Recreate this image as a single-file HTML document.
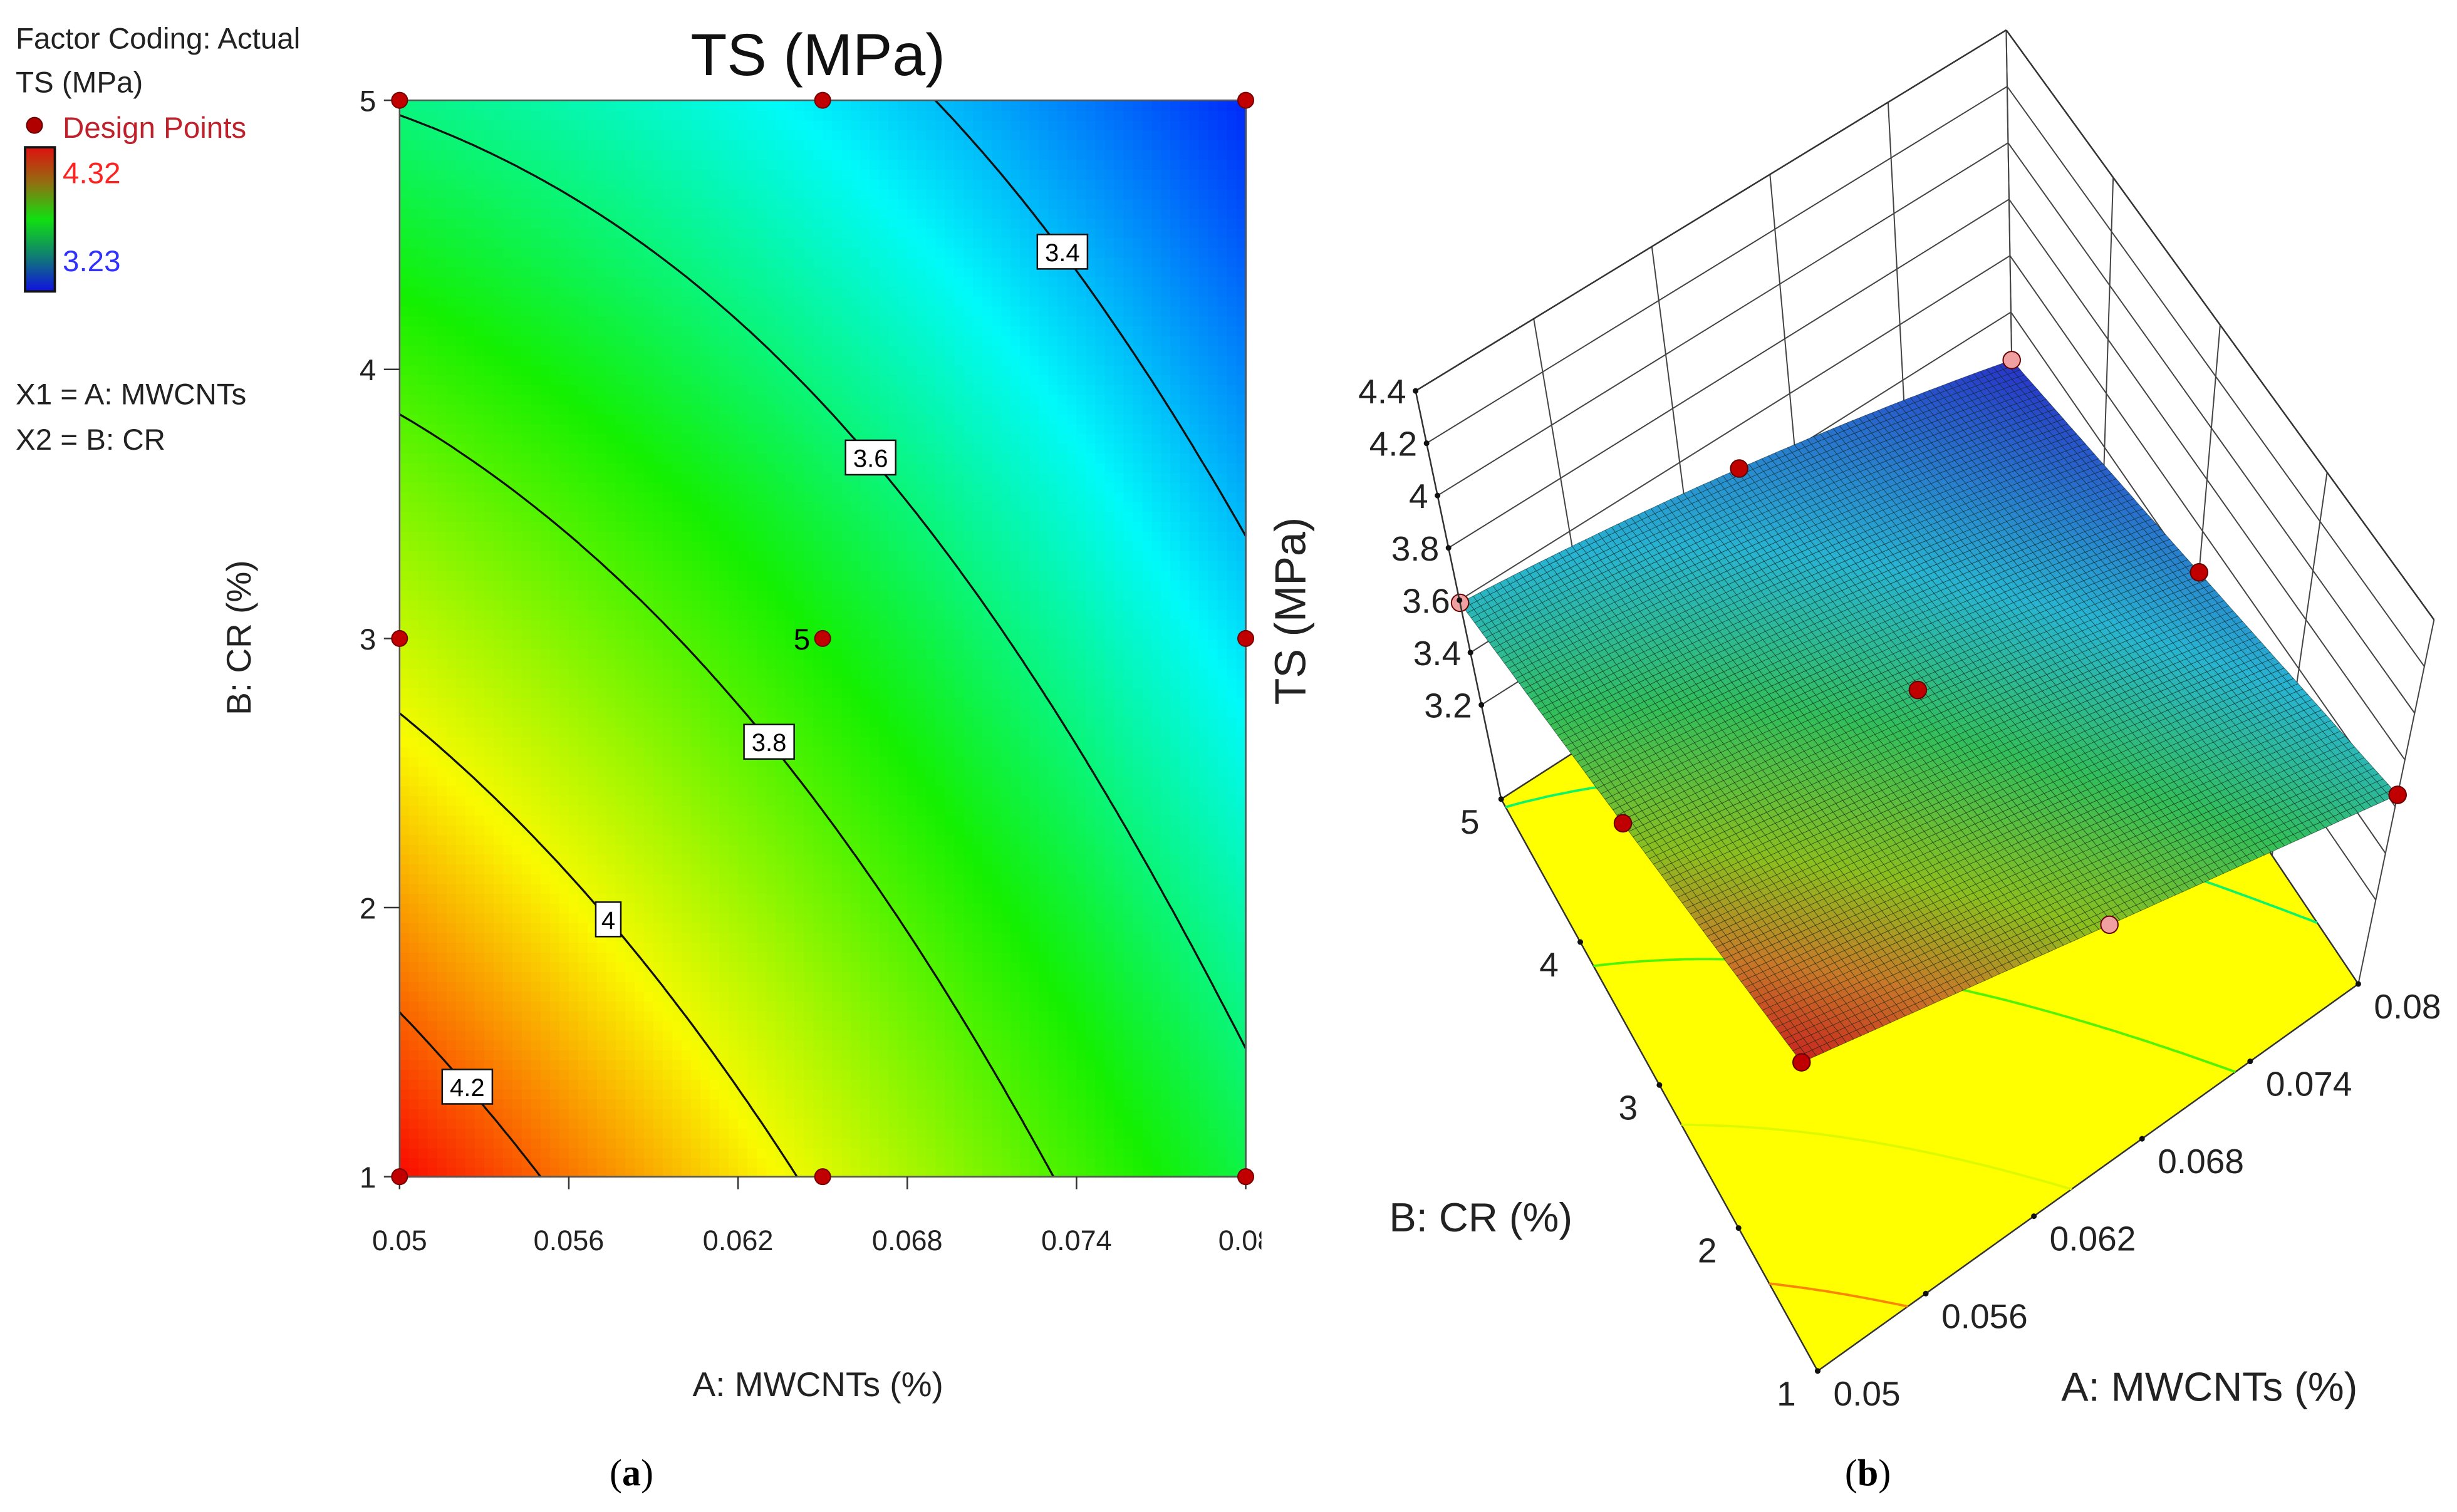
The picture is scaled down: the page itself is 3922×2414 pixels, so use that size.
<!DOCTYPE html>
<html><head><meta charset="utf-8"><style>
html,body{margin:0;padding:0;background:#fff;}
svg{display:block;font-family:"Liberation Sans",sans-serif;}
</style></head><body>
<svg id="root" xmlns="http://www.w3.org/2000/svg" width="3922" height="2414" viewBox="0 0 1568 965" preserveAspectRatio="none">
<defs>
<clipPath id="clipL"><rect x="0" y="0" width="805" height="965"/></clipPath>
<linearGradient id="legGrad" x1="0" y1="0" x2="0" y2="1">
<stop offset="0" stop-color="#e01010"/><stop offset="0.25" stop-color="#907010"/><stop offset="0.5" stop-color="#10e010"/><stop offset="0.75" stop-color="#108070"/><stop offset="1" stop-color="#1010e0"/>
</linearGradient>
</defs>
<g id="legend" font-size="19" fill="#222">
<text x="10" y="31">Factor Coding: Actual</text>
<text x="10" y="59">TS (MPa)</text>
<circle cx="22" cy="80" r="5" fill="#b00000" stroke="#600" stroke-width="0.8"/>
<text x="40" y="88" fill="#c0202a">Design Points</text>
<rect x="16" y="94" width="19" height="92" fill="url(#legGrad)" stroke="#111" stroke-width="1.5"/>
<text x="40" y="117" fill="#ff2020">4.32</text>
<text x="40" y="173" fill="#3030ff">3.23</text>
<text x="10" y="258">X1 = A: MWCNTs</text>
<text x="10" y="287">X2 = B: CR</text>
</g>
<text x="522" y="48" font-size="38" text-anchor="middle" fill="#111">TS (MPa)</text>
<g id="contourPlot" clip-path="url(#clipL)"></g>
<text x="522" y="891" font-size="22" text-anchor="middle" fill="#222">A: MWCNTs (%)</text>
<text transform="translate(160,407) rotate(-90)" font-size="22" text-anchor="middle" fill="#222">B: CR (%)</text>
<g id="surfPlot"></g>
<text transform="translate(833,390) rotate(-90)" font-size="28" text-anchor="middle" fill="#222">TS (MPa)</text>
<text x="945" y="786" font-size="26" text-anchor="middle" fill="#222">B: CR (%)</text>
<text x="1410" y="894" font-size="26" text-anchor="middle" fill="#222">A: MWCNTs (%)</text>
<text x="403" y="948" font-size="24" text-anchor="middle" font-family="Liberation Serif,serif">(<tspan font-weight="bold">a</tspan>)</text>
<text x="1192" y="948" font-size="24" text-anchor="middle" font-family="Liberation Serif,serif">(<tspan font-weight="bold">b</tspan>)</text>
</svg>
<script>
// ---- data ----
const modelCoef = [4.31, -0.66, -0.72, 0.463, -0.163];
const aRange = [0.05, 0.08];
const bRange = [1, 5];
const contourLevels = [3.4, 3.6, 3.8, 4.0, 4.2];
const contourLabelText = ["3.4", "3.6", "3.8", "4", "4.2"];
const contourLabelA = [0.0735, 0.0667, 0.0631, 0.0574, 0.0524];
const designA = [0.05, 0.065, 0.08, 0.05, 0.065, 0.08, 0.05, 0.065, 0.08];
const designB = [1, 1, 1, 3, 3, 3, 5, 5, 5];
const designBelow = [false, true, false, false, false, false, true, false, true];
const xTicks = [0.05, 0.056, 0.062, 0.068, 0.074, 0.08];
const xTickLabels = ["0.05", "0.056", "0.062", "0.068", "0.074", "0.08"];
const yTicks = [1, 2, 3, 4, 5];
const zTicks = [3.2, 3.4, 3.6, 3.8, 4.0, 4.2, 4.4];
const zTickLabels = ["3.2", "3.4", "3.6", "3.8", "4", "4.2", "4.4"];
const zFloor = 2.84, zTop = 4.4;

const NS = 'http://www.w3.org/2000/svg';
function mk(tag, parent){ const e=document.createElementNS(NS,tag); parent.appendChild(e); return e; }
function ts(A,B){ const u=(A-aRange[0])/(aRange[1]-aRange[0]), w=(B-bRange[0])/(bRange[1]-bRange[0]);
  return modelCoef[0]+modelCoef[1]*u+modelCoef[2]*w+modelCoef[3]*u*w+modelCoef[4]*u*u*w; }
function lerpC(stops,t){ t=Math.max(0,Math.min(1,t));
  for(let i=1;i<stops.length;i++){ if(t<=stops[i][0]){ const a=stops[i-1],b=stops[i],f=(t-a[0])/(b[0]-a[0]);
    return 'rgb('+[0,1,2].map(k=>Math.round(a[1][k]+(b[1][k]-a[1][k])*f)).join(',')+')'; } }
  return 'rgb('+stops[stops.length-1][1].join(',')+')'; }
const jet=[[0,[0,40,250]],[0.22,[0,250,250]],[0.45,[20,240,0]],[0.72,[250,250,0]],[1,[250,0,0]]];
const surfMap=[[0,[40,50,200]],[0.3,[40,180,210]],[0.5,[50,190,90]],[0.7,[140,190,30]],[0.85,[200,120,40]],[1,[200,30,30]]];
const vmin=3.23, vmax=4.32;

function contourSegs(level,N){
  const segs=[]; const dA=(aRange[1]-aRange[0])/N, dB=(bRange[1]-bRange[0])/N;
  for(let i=0;i<N;i++)for(let j=0;j<N;j++){
    const A0=aRange[0]+i*dA,B0=bRange[0]+j*dB;
    const c=[[A0,B0],[A0+dA,B0],[A0+dA,B0+dB],[A0,B0+dB]];
    const v=c.map(p=>ts(p[0],p[1])-level); const pts=[];
    for(let k=0;k<4;k++){const a=k,b=(k+1)%4; if((v[a]<0)!==(v[b]<0)){const f=v[a]/(v[a]-v[b]);
      pts.push([c[a][0]+(c[b][0]-c[a][0])*f,c[a][1]+(c[b][1]-c[a][1])*f]);}}
    if(pts.length>=2)segs.push([pts[0],pts[1]]); if(pts.length===4)segs.push([pts[2],pts[3]]);
  } return segs; }

// ---- contour plot ----
const L=document.getElementById('contourPlot');
const x0=255,x1=795,y0=751,y1=64;
const xL=A=>x0+(A-aRange[0])/(aRange[1]-aRange[0])*(x1-x0);
const yL=B=>y0-(B-bRange[0])/(bRange[1]-bRange[0])*(y0-y1);
const NX=90,NY=110;
for(let i=0;i<NX;i++)for(let j=0;j<NY;j++){
  const A=aRange[0]+(i+0.5)/NX*(aRange[1]-aRange[0]), B=bRange[0]+(j+0.5)/NY*(bRange[1]-bRange[0]);
  const r=mk('rect',L); const w=(x1-x0)/NX,h=(y0-y1)/NY;
  r.setAttribute('x',x0+i*w); r.setAttribute('y',y0-(j+1)*h); r.setAttribute('width',w+0.6); r.setAttribute('height',h+0.6);
  r.setAttribute('fill',lerpC(jet,(ts(A,B)-vmin)/(vmax-vmin)));
  
  
}
contourLevels.forEach((lv,li)=>{
  let d=''; contourSegs(lv,80).forEach(s=>{d+='M'+xL(s[0][0]).toFixed(1)+','+yL(s[0][1]).toFixed(1)+'L'+xL(s[1][0]).toFixed(1)+','+yL(s[1][1]).toFixed(1);});
  const p=mk('path',L); p.setAttribute('d',d); p.setAttribute('stroke','#111'); p.setAttribute('stroke-width','1.3'); p.setAttribute('fill','none');
  
  
});
const frame=mk('rect',L); frame.setAttribute('x',x0); frame.setAttribute('y',y1); frame.setAttribute('width',x1-x0); frame.setAttribute('height',y0-y1);
frame.setAttribute('fill','none'); frame.setAttribute('stroke','#555'); frame.setAttribute('stroke-width','1');


contourLevels.forEach((lv,li)=>{
  const A=contourLabelA[li]; let lo=bRange[0],hi=bRange[1];
  for(let k=0;k<40;k++){const m=(lo+hi)/2; if(ts(A,m)>lv)lo=m; else hi=m;}
  const cx=xL(A),cy=yL((lo+hi)/2); const tw=contourLabelText[li].length*8+8;
  const r=mk('rect',L); r.setAttribute('x',cx-tw/2); r.setAttribute('y',cy-11); r.setAttribute('width',tw); r.setAttribute('height',22);
  r.setAttribute('fill','#fff'); r.setAttribute('stroke','#111'); r.setAttribute('stroke-width','1');
  
  
  const t=mk('text',L); t.setAttribute('x',cx); t.setAttribute('y',cy+6); t.setAttribute('font-size','16'); t.setAttribute('text-anchor','middle'); t.textContent=contourLabelText[li];
  
  
});
xTicks.forEach((v,i)=>{
  const l=mk('line',L); l.setAttribute('x1',xL(v)); l.setAttribute('x2',xL(v)); l.setAttribute('y1',y0); l.setAttribute('y2',y0+8); l.setAttribute('stroke','#333');
  
  
  const t=mk('text',L); t.setAttribute('x',xL(v)); t.setAttribute('y',798); t.setAttribute('font-size','18'); t.setAttribute('text-anchor','middle'); t.setAttribute('fill','#222'); t.textContent=xTickLabels[i];
  
  
});
yTicks.forEach(v=>{
  const l=mk('line',L); l.setAttribute('x1',x0-10); l.setAttribute('x2',x0); l.setAttribute('y1',yL(v)); l.setAttribute('y2',yL(v)); l.setAttribute('stroke','#333');
  
  
  const t=mk('text',L); t.setAttribute('x',x0-15); t.setAttribute('y',yL(v)+7); t.setAttribute('font-size','19'); t.setAttribute('text-anchor','end'); t.setAttribute('fill','#222'); t.textContent=v;
  
  
});
designA.forEach((A,i)=>{
  const c=mk('circle',L); c.setAttribute('cx',xL(A)); c.setAttribute('cy',yL(designB[i])); c.setAttribute('r',5); c.setAttribute('fill','#c00000'); c.setAttribute('stroke','#700'); c.setAttribute('stroke-width','0.8');
  
  
});
const cl=mk('text',L); cl.setAttribute('x',xL(0.065)-8); cl.setAttribute('y',yL(3)+7); cl.setAttribute('font-size','19'); cl.setAttribute('text-anchor','end'); cl.textContent='5';



// ---- 3D surface ----
const S=document.getElementById('surfPlot');
const F=[[1160,875],[1505,628],[958,510],[1285,300]];
const V=[[-7,-134],[31,-149],[-35,-167],[-3,-180]];
function bil(Q,u,w){return [0,1].map(k=>Q[0][k]*(1-u)*(1-w)+Q[1][k]*u*(1-w)+Q[2][k]*(1-u)*w+Q[3][k]*u*w);}
function P(A,B,z){const u=(A-aRange[0])/(aRange[1]-aRange[0]), w=(B-bRange[0])/(bRange[1]-bRange[0]);
  const f=bil(F,u,w), v=bil(V,u,w); return [f[0]+v[0]*(z-zFloor), f[1]+v[1]*(z-zFloor)];}
function line3(a,b,stroke,sw,name){const l=mk('line',S); l.setAttribute('x1',a[0]); l.setAttribute('y1',a[1]); l.setAttribute('x2',b[0]); l.setAttribute('y2',b[1]);
  l.setAttribute('stroke',stroke); l.setAttribute('stroke-width',sw);
  
  }
const gridA=[0.05,0.056,0.062,0.068,0.074,0.08];
gridA.forEach(A=>line3(P(A,5,zFloor),P(A,5,zTop),'#444',0.8,'wall-grid-line'));
yTicks.forEach(B=>line3(P(0.08,B,zFloor),P(0.08,B,zTop),'#444',0.8,'wall-grid-line'));
zTicks.forEach(z=>{line3(P(0.05,5,z),P(0.08,5,z),'#444',0.8,'wall-grid-line'); line3(P(0.08,5,z),P(0.08,1,z),'#444',0.8,'wall-grid-line');});
line3(P(0.05,5,zTop),P(0.08,5,zTop),'#333',1,'box-edge'); line3(P(0.08,5,zTop),P(0.08,1,zTop),'#333',1,'box-edge');
const fl=mk('polygon',S); fl.setAttribute('points',[P(.05,1,zFloor),P(.08,1,zFloor),P(.08,5,zFloor),P(.05,5,zFloor)].map(p=>p.join(',')).join(' '));
fl.setAttribute('fill','#ffff00'); fl.setAttribute('stroke','#333'); fl.setAttribute('stroke-width','1');


contourLevels.forEach((lv)=>{
  let d=''; contourSegs(lv,60).forEach(s=>{const a=P(s[0][0],s[0][1],zFloor),b=P(s[1][0],s[1][1],zFloor); d+='M'+a[0].toFixed(1)+','+a[1].toFixed(1)+'L'+b[0].toFixed(1)+','+b[1].toFixed(1);});
  const p=mk('path',S); p.setAttribute('d',d); p.setAttribute('fill','none'); p.setAttribute('stroke',lerpC(jet,(lv-vmin)/(vmax-vmin)*0.9+0.05)); p.setAttribute('stroke-width','1.5');
  
  
});
const NM=85;
for(let i=0;i<NM;i++)for(let j=0;j<NM;j++){
  const Aa=aRange[0]+i/NM*(aRange[1]-aRange[0]), Ab=aRange[0]+(i+1)/NM*(aRange[1]-aRange[0]);
  const Ba=bRange[0]+j/NM*(bRange[1]-bRange[0]), Bb=bRange[0]+(j+1)/NM*(bRange[1]-bRange[0]);
  const pts=[[Aa,Ba],[Ab,Ba],[Ab,Bb],[Aa,Bb]].map(q=>P(q[0],q[1],ts(q[0],q[1])));
  const pg=mk('polygon',S); pg.setAttribute('points',pts.map(p=>p[0].toFixed(1)+','+p[1].toFixed(1)).join(' '));
  pg.setAttribute('fill',lerpC(surfMap,(ts((Aa+Ab)/2,(Ba+Bb)/2)-vmin)/(vmax-vmin)));
  pg.setAttribute('stroke','rgba(10,30,20,0.55)'); pg.setAttribute('stroke-width','0.35');
  
  
}
designA.forEach((A,i)=>{
  const p=P(A,designB[i],ts(A,designB[i]));
  const c=mk('circle',S); c.setAttribute('cx',p[0]); c.setAttribute('cy',p[1]); c.setAttribute('r',5.5);
  c.setAttribute('fill',designBelow[i]?'#f0a0a0':'#c00000'); c.setAttribute('stroke','#600'); c.setAttribute('stroke-width','0.8');
  
  
});
line3(P(0.05,5,zFloor),P(0.05,5,zTop),'#333',1,'z-axis-line');
zTicks.forEach((z,i)=>{const p=P(0.05,5,z);
  const d=mk('circle',S); d.setAttribute('cx',p[0]); d.setAttribute('cy',p[1]); d.setAttribute('r',1.8); d.setAttribute('fill','#111');
  
  
  const t=mk('text',S); t.setAttribute('x',p[0]-6); t.setAttribute('y',p[1]+8); t.setAttribute('font-size','22'); t.setAttribute('text-anchor','end'); t.setAttribute('fill','#222'); t.textContent=zTickLabels[i];
  
  
});
yTicks.forEach(B=>{const p=P(0.05,B,zFloor);
  const d=mk('circle',S); d.setAttribute('cx',p[0]); d.setAttribute('cy',p[1]); d.setAttribute('r',1.8); d.setAttribute('fill','#111');
  
  
  const t=mk('text',S); t.setAttribute('x',p[0]-20); t.setAttribute('y',p[1]+22); t.setAttribute('font-size','22'); t.setAttribute('text-anchor','middle'); t.setAttribute('fill','#222'); t.textContent=B;
  
  
});
xTicks.forEach((A,i)=>{const p=P(A,1,zFloor);
  const d=mk('circle',S); d.setAttribute('cx',p[0]); d.setAttribute('cy',p[1]); d.setAttribute('r',1.8); d.setAttribute('fill','#111');
  
  
  const t=mk('text',S); t.setAttribute('x',p[0]+10); t.setAttribute('y',p[1]+22); t.setAttribute('font-size','22'); t.setAttribute('text-anchor','start'); t.setAttribute('fill','#222'); t.textContent=xTickLabels[i];
  
  
});
</script>
</body></html>
